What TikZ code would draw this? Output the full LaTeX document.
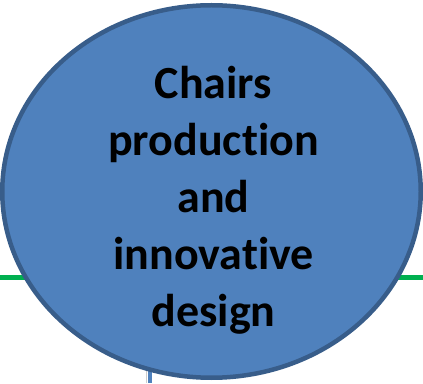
\documentclass[tikz,border=0pt]{standalone}
\usepackage{fontspec}
\setmainfont[Ligatures=NoCommon]{Carlito}
\usetikzlibrary{shapes.geometric}
\definecolor{bubblefill}{HTML}{4F81BD}
\definecolor{bubbleline}{HTML}{385D8A}
\definecolor{railgreen}{HTML}{00B050}
\begin{document}
\begin{tikzpicture}
[x=1pt,y=1pt,every node/.style={inner sep=0pt},
 bubble/.style={ellipse,draw=bubbleline,line width=4.5pt,fill=bubblefill,minimum width=418.5pt,minimum height=372.5pt},
 rail/.style={draw=railgreen,line width=5pt},
 stem/.style={draw=bubblefill,line width=4pt}]
\useasboundingbox (0,0) rectangle (423,383);
\coordinate (gl) at (0,105);
\coordinate (gr) at (423,105);
\coordinate (sb) at (150,0);
\coordinate (st) at (150,20);
\draw[rail] (gl) -- (gr);
\draw[draw=gray!40,line width=1.5pt] (146.5,0) -- (146.5,20);
\draw[stem] (sb) -- (st);
\node[bubble] (chairs) at (211.5,191.5) {};
\node[align=center,font=\fontsize{46}{57}\selectfont\bfseries] (label) at (213.5,183)
 {Chairs\\production\\and\\innovative\\design};
\end{tikzpicture}
\end{document}
